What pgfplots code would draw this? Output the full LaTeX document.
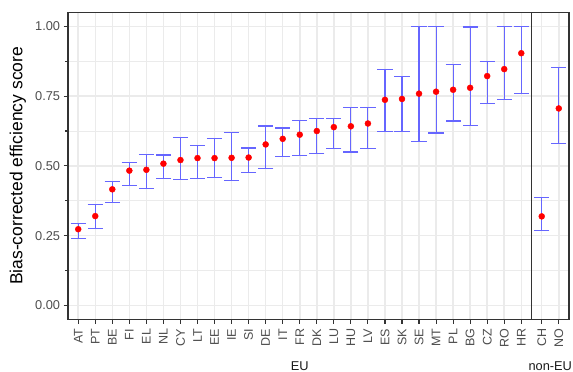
\documentclass[border=0pt]{standalone}
\usepackage{fontspec}
\setmainfont{Liberation Sans}
\usepackage{pgfplots}
\pgfplotsset{compat=1.18}
\usepackage{pgfplotstable}
\definecolor{grid}{HTML}{EBEBEB}
\definecolor{bord}{HTML}{333333}
\definecolor{tlab}{HTML}{4D4D4D}
\definecolor{strip}{HTML}{1A1A1A}
\definecolor{ebar}{HTML}{6666FF}
\pgfplotstableread{
x name y lo hi
1 AT 0.273 0.240 0.294
2 PT 0.320 0.275 0.360
3 BE 0.416 0.368 0.443
4 FI 0.483 0.431 0.513
5 EL 0.486 0.418 0.540
6 NL 0.508 0.454 0.539
7 CY 0.521 0.450 0.602
8 LT 0.528 0.454 0.573
9 EE 0.528 0.460 0.597
10 IE 0.529 0.448 0.620
11 SI 0.530 0.477 0.564
12 DE 0.577 0.491 0.643
13 IT 0.597 0.533 0.636
14 FR 0.612 0.537 0.664
15 DK 0.625 0.545 0.669
16 LU 0.639 0.562 0.670
17 HU 0.642 0.550 0.710
18 LV 0.652 0.562 0.710
19 ES 0.737 0.623 0.847
20 SK 0.740 0.623 0.821
21 SE 0.759 0.588 1.000
22 MT 0.766 0.618 1.000
23 PL 0.773 0.661 0.863
24 BG 0.780 0.644 0.998
25 CZ 0.822 0.725 0.875
26 RO 0.847 0.737 1.000
27 HR 0.904 0.759 1.000
}\eu
\pgfplotstableread{
x name y lo hi
1 CH 0.319 0.269 0.388
2 NO 0.706 0.580 0.853
}\noneu
\pgfplotsset{
  panel/.style={
    scale only axis, height=306.8pt,
    ymin=-0.05, ymax=1.05,
    ytick={0,0.25,0.5,0.75,1},
    minor ytick={0.125,0.375,0.625,0.875},
    xtick=data,
    grid=both,
    major grid style={draw=grid, line width=1.5pt},
    minor grid style={draw=grid, line width=0.8pt},
    axis line style={draw=bord, line width=1.3pt},
    tick align=outside, xtick pos=lower, ytick pos=left,
    major tick length=4.4pt,
    tick style={draw=bord, line width=1.1pt},
    xticklabel style={rotate=90, anchor=east, font=\fontsize{12.5}{14}\selectfont, text=tlab, inner sep=1pt, xshift=-4pt},
    yticklabel style={font=\fontsize{12.8}{14}\selectfont, text=tlab},
    xlabel style={font=\fontsize{12.8}{14}\selectfont, text=strip, anchor=center},
    clip=false,
  },
  ebars/.style={
    only marks, mark=none,
    error bars/.cd, y dir=both, y explicit,
    error bar style={draw=ebar, line width=1.1pt},
    error mark options={draw=ebar, line width=1.1pt, mark size=7.6pt, rotate=90},
  },
  pts/.style={only marks, mark=*, mark size=3pt, mark options={draw=red, fill=red}},
}
\begin{document}
\begin{tikzpicture}[x=1pt,y=1pt]
\path[use as bounding box] (0,0) rectangle (573,372);
\begin{axis}[panel,
  at={(68pt,52.7pt)}, anchor=south west,
  width=463.5pt,
  xmin=0.4, xmax=27.6,
  xticklabels={AT,PT,BE,FI,EL,NL,CY,LT,EE,IE,SI,DE,IT,FR,DK,LU,HU,LV,ES,SK,SE,MT,PL,BG,CZ,RO,HR},
  yticklabels={0.00,0.25,0.50,0.75,1.00},
  xlabel={EU},
  xlabel style={at={(axis description cs:0.5,-0.152)}},
  ylabel={Bias-corrected efficiency score},
  ylabel style={at={(axis description cs:-0.108,0.5)}, anchor=center, font=\fontsize{17.5}{20}\selectfont, text=black},
]
\addplot+[ebars] table[x=x, y=y, y error plus expr={\thisrow{hi}-\thisrow{y}}, y error minus expr={\thisrow{y}-\thisrow{lo}}]{\eu};
\addplot[pts] table[x=x, y=y]{\eu};
\end{axis}
\begin{axis}[panel,
  at={(531.5pt,52.7pt)}, anchor=south west,
  width=37.5pt,
  xmin=0.4, xmax=2.6,
  xticklabels={CH,NO},
  yticklabels={},
  y tick style={draw=none},
  xlabel={non-EU},
  xlabel style={at={(axis description cs:0.5,-0.152)}},
]
\addplot+[ebars] table[x=x, y=y, y error plus expr={\thisrow{hi}-\thisrow{y}}, y error minus expr={\thisrow{y}-\thisrow{lo}}]{\noneu};
\addplot[pts] table[x=x, y=y]{\noneu};
\end{axis}
\end{tikzpicture}
\end{document}
